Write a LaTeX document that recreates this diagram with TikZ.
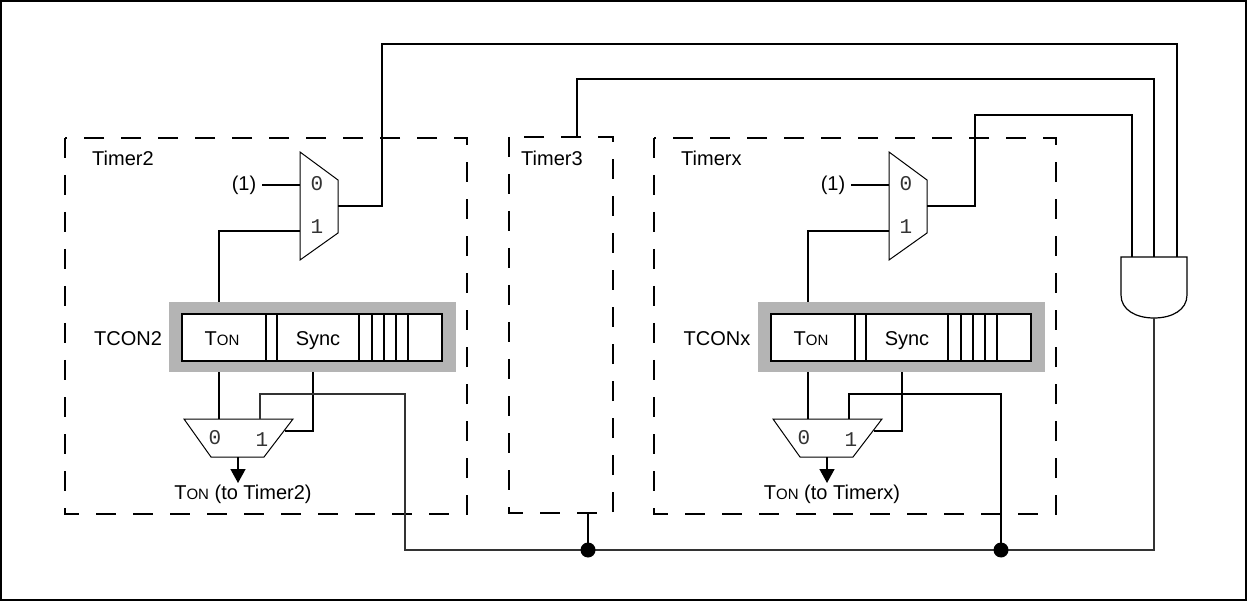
\documentclass[tikz,border=0pt]{standalone}
\usepackage{fontspec}
\setmainfont{Liberation Sans}
\newfontfamily\digfont{Liberation Mono}
\usetikzlibrary{arrows.meta}
\definecolor{reggray}{RGB}{180,180,180}
\newcommand\Ton{T{\fontsize{15}{18}\selectfont ON}}
\tikzset{
  wire/.style={line width=1.6pt},
  thinwire/.style={line width=1.2pt, black!80},
  muxshape/.style={line width=1pt},
  dbox/.style={line width=2pt, dash pattern=on 20pt off 17pt},
  lbl/.style={font=\fontsize{20}{24}\selectfont, inner sep=0pt},
  dig/.style={font=\digfont\fontsize{21}{24}\selectfont, text=black!80, inner sep=0pt},
  regbox/.style={fill=reggray, minimum width=287pt, minimum height=70pt, inner sep=0pt},
}
% #1 suffix, #2 xshift, #3 block name, #4 register name
\newcommand\timerblock[4]{%
\begin{scope}[xshift=#2pt]
  \draw[dbox] (65,138) rectangle (467,514);
  \node[lbl, anchor=base west] (name#1) at (92,166) {#3};
  % top multiplexer
  \draw[muxshape] (300,152) -- (338,180) -- (338,233) -- (300,260) -- cycle;
  \node[dig] (mz#1) at (317,184) {0};
  \node[dig] (mo#1) at (317,227) {1};
  \coordinate (mi0#1) at (300,185);
  \coordinate (mi1#1) at (300,231);
  \coordinate (mout#1) at (338,206);
  \node[lbl] (one#1) at (244,185) {(1)};
  \draw[wire] ([xshift=6pt]one#1.east) -- (mi0#1);
  % register
  \node[regbox] (reg#1) at (312.5,337) {};
  \draw[line width=2pt, fill=white] (182,314) rectangle (442,361);
  \foreach \d in {266,277,359,372,384,396,408} \draw[line width=1.6pt] (\d,314) -- (\d,361);
  \node[lbl, anchor=base] (ton#1) at (222,345) {\Ton};
  \node[lbl, anchor=base] (sync#1) at (318,345) {Sync};
  \node[lbl, anchor=base] (tcon#1) at (128,345) {#4};
  \coordinate (rtop#1) at (219,302);
  \coordinate (rbot#1) at (219,372);
  \coordinate (rsync#1) at (313,372);
  \draw[wire] (mi1#1) -| (rtop#1);
  % bottom multiplexer
  \draw[muxshape] (184,419) -- (293,419) -- (264,457) -- (211,457) -- cycle;
  \node[dig] (bz#1) at (215,438) {0};
  \node[dig] (bo#1) at (262,440) {1};
  \coordinate (bi0#1) at (219,419);
  \coordinate (bi1#1) at (260,419);
  \coordinate (bside#1) at (285,431);
  \coordinate (bout#1) at (238,457);
  \coordinate (btip#1) at (238,483);
  \draw[wire] (rbot#1) -- (bi0#1);
  \draw[wire] (rsync#1) |- (bside#1);
  \draw[wire, -{Triangle[width=15pt,length=14pt]}] (bout#1) -- (btip#1);
  \node[lbl, anchor=base] (outl#1) at (243,499) {\Ton{} (to #3)};
\end{scope}}
\begin{document}
\begin{tikzpicture}[x=1pt,y=-1pt]
\useasboundingbox (0,0) rectangle (1247,601);
\draw[line width=1.6pt] (1,1) rectangle (1246,600);

\timerblock{A}{0}{Timer2}{TCON2}
\timerblock{B}{589}{Timerx}{TCONx}

% Timer3
\draw[dbox] (509,137) rectangle (613,513);
\node[lbl, anchor=base west] (name3) at (521,166) {Timer3};
\coordinate (t3top) at (577,137);
\coordinate (t3bot) at (588,513);

% AND gate
\coordinate (andin1) at (1132,257);
\coordinate (andin2) at (1154,257);
\coordinate (andin3) at (1177,257);
\coordinate (andout) at (1154,318);
\draw[line width=1.2pt] (1121,257) -- (1187,257) -- (1187,295)
  .. controls (1187,310) and (1172,318) .. (andout)
  .. controls (1136,318) and (1121,310) .. (1121,295) -- cycle;

% wires to the AND gate
\draw[wire] (moutA) -| (382,44) -| (andin3);
\draw[wire] (t3top) |- (1154,79) -- (andin2);
\draw[wire] (moutB) -| (975,115) -| (andin1);

% feedback bus
\coordinate (j1) at (588,550);
\coordinate (j2) at (1001,550);
\draw[thinwire] (andout) |- (j2) -- (j1) -| (405,394) -| (bi1A);
\draw[wire] (j2) -- (1001,394) -| (bi1B);
\draw[wire] (t3bot) -- (j1);
\fill (j1) circle[radius=7.5pt];
\fill (j2) circle[radius=7.5pt];
\end{tikzpicture}
\end{document}
